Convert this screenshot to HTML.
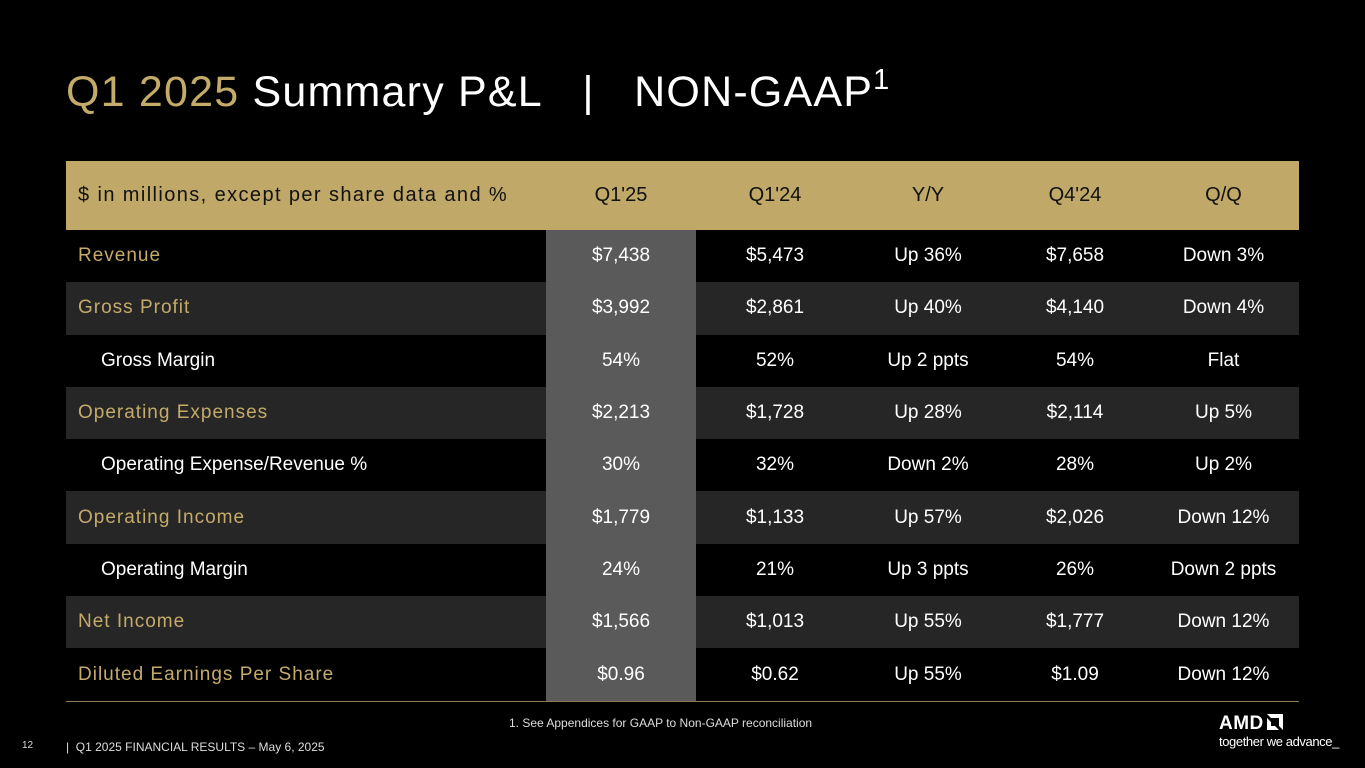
<!DOCTYPE html>
<html><head><meta charset="utf-8"><style>
body{margin:0;width:1365px;height:768px;background:#000;overflow:hidden;font-family:"Liberation Sans",sans-serif;position:relative}
.title{position:absolute;left:66px;top:68px;font-size:43px;color:#fff;letter-spacing:1.2px;white-space:nowrap}
.title .g{color:#c4ab6a}
.title sup{font-size:29px;position:relative;top:-4px;vertical-align:top}
table{position:absolute;left:66px;top:161px;width:1233px;border-collapse:collapse}
th{background:#c0a868;color:#111;font-weight:normal;font-size:20px;height:69px;text-align:center;padding:0}
th.l{text-align:left;padding-left:12px;letter-spacing:1.4px}
td{height:52.3px;font-size:19px;color:#fff;text-align:center;padding:0}
td.l{text-align:left;padding-left:12px;color:#c4ab6a;letter-spacing:1px}
td.s{text-align:left;padding-left:35px;color:#fff;font-size:19px}
tr.d td{background:#262626}
td.h,tr.d td.h{background:#5a5a5a}
tbody tr:last-child td{border-bottom:1px solid #8a7a55}
.foot{position:absolute;font-size:12px;color:#ddd}
</style></head><body>
<div class="title"><span class="g">Q1 2025</span> Summary P&amp;L&nbsp;&nbsp; |&nbsp;&nbsp; NON-GAAP<sup>1</sup></div>
<table>
<colgroup><col style="width:480px"><col style="width:150px"><col style="width:158px"><col style="width:148px"><col style="width:146px"><col style="width:151px"></colgroup>
<thead><tr><th class="l">$ in millions, except per share data and %</th><th>Q1'25</th><th>Q1'24</th><th>Y/Y</th><th>Q4'24</th><th>Q/Q</th></tr></thead>
<tbody>
<tr><td class="l">Revenue</td><td class="h">$7,438</td><td>$5,473</td><td>Up 36%</td><td>$7,658</td><td>Down 3%</td></tr>
<tr class="d"><td class="l">Gross Profit</td><td class="h">$3,992</td><td>$2,861</td><td>Up 40%</td><td>$4,140</td><td>Down 4%</td></tr>
<tr><td class="s">Gross Margin</td><td class="h">54%</td><td>52%</td><td>Up 2 ppts</td><td>54%</td><td>Flat</td></tr>
<tr class="d"><td class="l">Operating Expenses</td><td class="h">$2,213</td><td>$1,728</td><td>Up 28%</td><td>$2,114</td><td>Up 5%</td></tr>
<tr><td class="s">Operating Expense/Revenue %</td><td class="h">30%</td><td>32%</td><td>Down 2%</td><td>28%</td><td>Up 2%</td></tr>
<tr class="d"><td class="l">Operating Income</td><td class="h">$1,779</td><td>$1,133</td><td>Up 57%</td><td>$2,026</td><td>Down 12%</td></tr>
<tr><td class="s">Operating Margin</td><td class="h">24%</td><td>21%</td><td>Up 3 ppts</td><td>26%</td><td>Down 2 ppts</td></tr>
<tr class="d"><td class="l">Net Income</td><td class="h">$1,566</td><td>$1,013</td><td>Up 55%</td><td>$1,777</td><td>Down 12%</td></tr>
<tr><td class="l">Diluted Earnings Per Share</td><td class="h">$0.96</td><td>$0.62</td><td>Up 55%</td><td>$1.09</td><td>Down 12%</td></tr>
</tbody></table>
<div class="foot" style="left:509px;top:716px">1. See Appendices for GAAP to Non-GAAP reconciliation</div>
<div class="foot" style="left:22px;top:740px;font-size:10px">12</div>
<div class="foot" style="left:66px;top:740px">|&nbsp; Q1 2025 FINANCIAL RESULTS – May 6, 2025</div>
<div style="position:absolute;left:1219px;top:714px;color:#fff">
<div style="font-size:19px;font-weight:bold;letter-spacing:0.5px;line-height:20px">AMD<svg width="16" height="16" viewBox="0 0 16 16" style="margin-left:3px;vertical-align:-1px"><path d="M0 0H16V16L12 12V4H4Z M0 4L4 8V12H8L12 16H0Z" fill="#fff"/></svg></div>
<div style="font-size:13px;line-height:16px;letter-spacing:-0.4px">together we advance_</div>
</div>
</body></html>
